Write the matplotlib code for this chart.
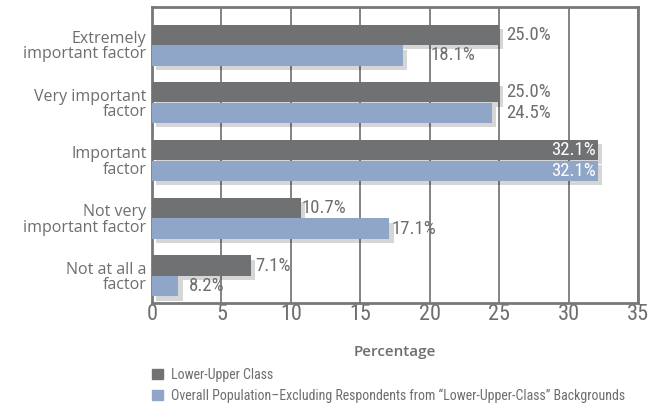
import matplotlib.pyplot as plt
import matplotlib.patheffects as pe
from matplotlib import font_manager
from matplotlib.patches import Patch
import numpy as np

categories = [
    "Extremely\nimportant factor",
    "Very important\nfactor",
    "Important\nfactor",
    "Not very\nimportant factor",
    "Not at all a\nfactor",
]
lower_upper = [25.0, 25.0, 32.1, 10.7, 7.1]
overall = [18.1, 24.5, 32.1, 17.1, 1.9]
lower_upper_labels = ["25.0%", "25.0%", "32.1%", "10.7%", "7.1%"]
overall_labels = ["18.1%", "24.5%", "32.1%", "17.1%", "8.2%"]
series_names = [
    "Lower-Upper Class",
    "Overall Population\u2013Excluding Respondents from \u201cLower-Upper-Class\u201d Backgrounds",
]

DARK = "#707173"
BLUE = "#90a6c8"
TEXT = "#6d6e70"

installed = {f.name for f in font_manager.fontManager.ttflist}
narrow_candidates = ["Roboto Condensed", "Liberation Sans Narrow",
                     "DejaVu Sans Condensed", "Open Sans Condensed",
                     "Noto Sans Condensed", "Roboto"]
narrow_name = next((n for n in narrow_candidates if n in installed), "DejaVu Sans")
NARROW = [narrow_name, "DejaVu Sans"]
HUMAN = ["Open Sans", "DejaVu Sans"]

fig = plt.figure(figsize=(6.57, 4.07), dpi=100)
ax = fig.add_axes([0.2314, 0.2555, 0.7396, 0.7273])

y = np.arange(len(categories))
h = 0.35
shadow = [pe.withSimplePatchShadow(offset=(3, -3), shadow_rgbFace="k", alpha=0.16)]

bars_dark = ax.barh(y - 0.18, lower_upper, height=h, color=DARK, zorder=3,
                    path_effects=shadow)
bars_blue = ax.barh(y + 0.18, overall, height=h, color=BLUE, zorder=3,
                    path_effects=shadow)

# label offsets in pixels from bar end (negative = inside, white)
dark_off = [7, 7, -2, 1, 5]
blue_off = [27, 14, -2, 2, 10]
for bars, labels, offs in [(bars_dark, lower_upper_labels, dark_off),
                           (bars_blue, overall_labels, blue_off)]:
    for b, lab, off in zip(bars, labels, offs):
        inside = off < 0
        ax.annotate(lab, (b.get_width(), b.get_y() + b.get_height() / 2),
                    xytext=(off, 0), textcoords="offset pixels",
                    ha="right" if inside else "left", va="center",
                    color="white" if inside else TEXT,
                    fontsize=13.5, family=NARROW, zorder=5)

ax.set_xlim(0, 35)
ax.set_ylim(4.47, -0.66)
ax.set_xticks(range(0, 36, 5))
ax.set_xticklabels([str(v) for v in range(0, 36, 5)], family=NARROW,
                   fontsize=16, color=TEXT)
ax.set_yticks(y)
ax.set_yticklabels(categories, family=HUMAN, fontsize=11.5, color=TEXT,
                   linespacing=0.95)
ax.tick_params(axis="both", length=0, pad=1)
ax.tick_params(axis="y", pad=4)
ax.grid(axis="x", color=TEXT, lw=1.2, zorder=1)
for s in ax.spines.values():
    s.set_color("#77787b")
    s.set_linewidth(2)

ax.set_xlabel("Percentage", family=HUMAN, fontsize=11, color=TEXT,
              fontweight="semibold", labelpad=14)

handles = [Patch(color=DARK), Patch(color=BLUE)]
fig.legend(handles, series_names, loc="upper left",
           bbox_to_anchor=(0.232, 0.097), frameon=False,
           prop={"family": NARROW, "size": 10}, labelcolor=TEXT,
           handlelength=0.75, handleheight=0.75, handletextpad=0.6,
           labelspacing=0.5, borderaxespad=0, borderpad=0)

fig.savefig("out.png", dpi=100)
